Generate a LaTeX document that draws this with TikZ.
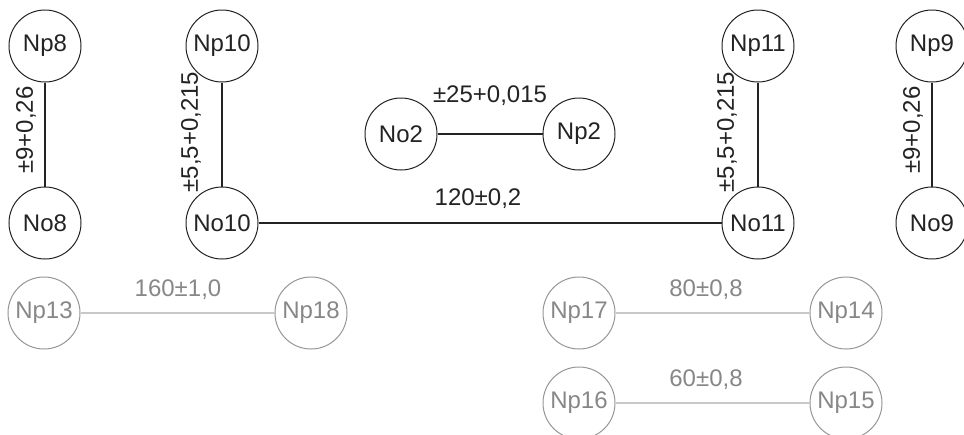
\documentclass[tikz,border=0pt]{standalone}
\usepackage{fontspec}
\setmainfont{Liberation Sans}
\definecolor{dk}{RGB}{35,35,35}
\definecolor{ltline}{RGB}{200,200,200}
\definecolor{ltcirc}{RGB}{150,150,150}
\definecolor{lttext}{RGB}{135,135,135}
\tikzset{
  nd/.style={circle,draw=dk,line width=1pt,minimum size=72pt,inner sep=0pt,font=\fontsize{24}{26}\selectfont,text=dk},
  ndl/.style={nd,draw=ltcirc,text=lttext},
  ln/.style={draw=dk,line width=1.3pt},
  lnl/.style={draw=ltline,line width=1.3pt},
  lab/.style={font=\fontsize{24}{26}\selectfont,text=dk,inner sep=0pt},
  labl/.style={lab,text=lttext}
}
\begin{document}
\begin{tikzpicture}[x=1pt,y=-1pt]
\useasboundingbox (0,0) rectangle (964,434);
\node[nd] (Np8) at (45,46) {Np8};
\node[nd] (No8) at (45,223) {No8};
\node[nd] (Np10) at (222,46) {Np10};
\node[nd] (No10) at (222,223) {No10};
\node[nd] (No2) at (401,134) {No2};
\node[nd] (Np2) at (579,134) {Np2};
\node[nd] (Np11) at (758,46) {Np11};
\node[nd] (No11) at (758,223) {No11};
\node[nd] (Np9) at (932,46) {Np9};
\node[nd] (No9) at (932,223) {No9};
\node[ndl] (Np13) at (44,313) {Np13};
\node[ndl] (Np18) at (311,313) {Np18};
\node[ndl] (Np17) at (579,313) {Np17};
\node[ndl] (Np14) at (846,313) {Np14};
\node[ndl] (Np16) at (579,403) {Np16};
\node[ndl] (Np15) at (846,403) {Np15};
\draw[ln] (Np8) -- (No8);
\draw[ln] (Np10) -- (No10);
\draw[ln] (Np11) -- (No11);
\draw[ln] (Np9) -- (No9);
\draw[ln] (No2) -- (Np2);
\draw[ln] (No10) -- (No11);
\draw[lnl] (Np13) -- (Np18);
\draw[lnl] (Np17) -- (Np14);
\draw[lnl] (Np16) -- (Np15);
\node[lab,rotate=90] (l1) at (26,130) {±9+0,26};
\node[lab,rotate=90] (l2) at (191,132) {±5,5+0,215};
\node[lab,rotate=90] (l3) at (727,132) {±5,5+0,215};
\node[lab,rotate=90] (l4) at (913,130) {±9+0,26};
\node[lab] (l5) at (490,96) {±25+0,015};
\node[lab] (l6) at (478,199) {120±0,2};
\node[labl] (l7) at (178,290) {160±1,0};
\node[labl] (l8) at (706,290) {80±0,8};
\node[labl] (l9) at (706,380) {60±0,8};
\end{tikzpicture}
\end{document}
